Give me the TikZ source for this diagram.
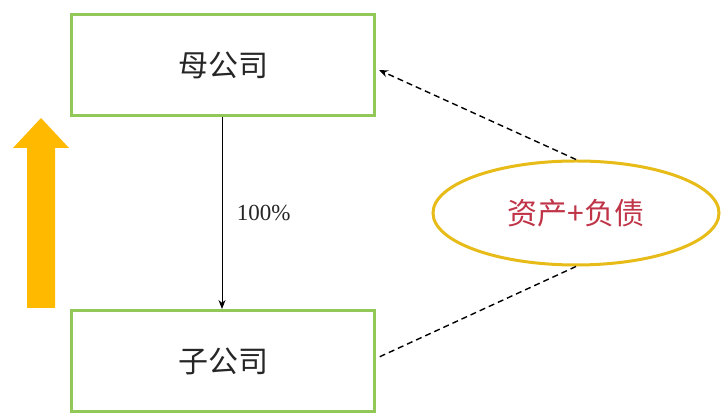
\documentclass[tikz,border=0pt]{standalone}
\usepackage{fontspec}
\newfontfamily\cjk{Noto Sans CJK SC}
\newfontfamily\numfont{Liberation Serif}
\usetikzlibrary{shapes.geometric,arrows.meta,calc}
\definecolor{boxgreen}{RGB}{146,200,88}
\definecolor{ellgold}{RGB}{232,188,24}
\definecolor{txtred}{RGB}{192,52,72}
\definecolor{arrorange}{RGB}{255,186,0}
\tikzset{
  company/.style={draw=boxgreen, line width=3pt, fill=white, minimum width=303pt, minimum height=101pt, inner sep=0pt, font=\cjk\fontsize{30}{30}\selectfont, text=black!85},
  oval/.style={ellipse, draw=ellgold, line width=3pt, minimum width=286pt, minimum height=104pt, inner sep=0pt, font=\cjk\fontsize{30}{30}\selectfont, text=txtred},
  link/.style={line width=1pt, -{Stealth[length=9pt,width=7pt]}},
  dlink/.style={line width=1.4pt, dash pattern=on 6pt off 4pt}
}
\begin{document}
\begin{tikzpicture}[x=1pt,y=1pt]
\useasboundingbox (0,0) rectangle (721,414);
\fill[white] (0,0) rectangle (721,414);
\node[company] (mother) at (223,349) {母公司};
\node[company] (child) at (223,53) {子公司};
\node[oval] (al) at (576,201) {资产+负债};
\draw[link] ($(mother.south)+(-1,0)$) -- node[right=11pt, font=\numfont\fontsize{23}{23}\selectfont, text=black!85] {100\%} ($(child.north)+(-1,0)$);
\draw[dlink, -{Stealth[length=9pt,width=7pt]}] (al.north) -- ($(mother.east)+(3,-5)$);
\draw[dlink] (al.south) -- ($(child.east)+(1,3)$);
\fill[arrorange] (27,106) -- (55,106) -- (55,266) -- (69,266) -- (41,296) -- (13,266) -- (27,266) -- cycle;
\end{tikzpicture}
\end{document}
